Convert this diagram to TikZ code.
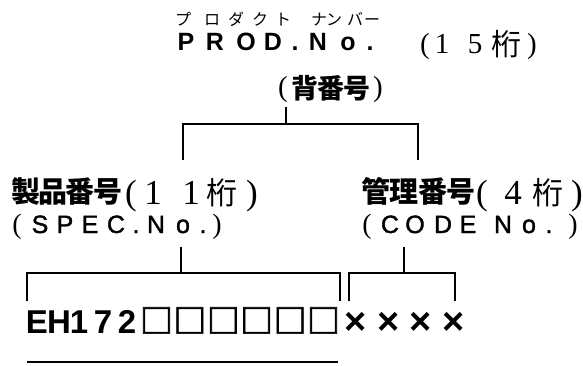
\documentclass[tikz,border=0pt]{standalone}
\usepackage{fontspec}
\setmainfont{Liberation Sans}
\newfontfamily\cjk{Noto Sans CJK JP}
\newfontfamily\serif{Liberation Serif}
\tikzset{
  ch/.style={inner sep=0pt, outer sep=0pt, anchor=base},
  kana/.style={ch, font=\cjk\fontsize{16}{16}\selectfont},
  prodf/.style={ch, font=\bfseries\fontsize{25}{25}\selectfont},
  ser/.style={ch, font=\serif\fontsize{#1}{#1}\selectfont},
  kanji/.style={ch, font=\cjk\bfseries\fontsize{#1}{#1}\selectfont},
  kanjir/.style={ch, font=\cjk\fontsize{#1}{#1}\selectfont},
  lat/.style={ch, font=\addfontfeature{FakeBold=1.5}\fontsize{25}{25}\selectfont},
  bigf/.style={ch, font=\bfseries\fontsize{33}{33}\selectfont},
  crossf/.style={ch, font=\bfseries\fontsize{38}{38}\selectfont},
  sqf/.style={ch, font=\cjk\bfseries\addfontfeature{FakeBold=2}\fontsize{33}{33}\selectfont},
  link/.style={line width=2.5pt},
}
\begin{document}
\begin{tikzpicture}[x=1pt,y=-1pt]
\useasboundingbox (0,0) rectangle (583,365);
% ruby
\foreach \x/\c [count=\n] in {183/プ,212/ロ,236/ダ,260/ク,283/ト,319/ナ,334/ン,355/バ,372/ー}
  \node[kana] (ruby\n) at (\x,25) {\c};
% PROD.No.(15桁)
\foreach \x/\c [count=\n] in {186/P,215/R,246/O,273/D,295/.,318/N,348/o,370/.}
  \node[prodf] (prod\n) at (\x,50) {\c};
\foreach \x/\c [count=\n] in {425/(,442/1,475/5,532/)}
  \node[ser=29] (prodn\n) at (\x,53) {\c};
\node[kanjir=30] (prodk) at (506,55) {桁};
% (背番号)
\node[ser=29] (sbo) at (283,96) {(};
\node[ser=29] (sbc) at (378,96) {)};
\foreach \x/\c [count=\n] in {305/背,331/番,357/号}
  \node[kanji=27] (seb\n) at (\x,98) {\c};
% 製品番号(11桁)
\foreach \x/\c [count=\n] in {25.5/製,52.5/品,80/番,107.5/号}
  \node[kanji=29] (sei\n) at (\x,202) {\c};
\foreach \x/\c [count=\n] in {131/(,153/1,191/1,252/)}
  \node[ser=35] (seid\n) at (\x,204) {\c};
\node[kanjir=31] (seik) at (222,204) {桁};
% 管理番号(4桁)
\foreach \x/\c [count=\n] in {376/管,404/理,433/番,461/号}
  \node[kanji=29] (kan\n) at (\x,202) {\c};
\foreach \x/\c [count=\n] in {482/(,513/4,577/)}
  \node[ser=35] (kand\n) at (\x,204) {\c};
\node[kanjir=31] (kank) at (548,204) {桁};
% (SPEC.No.)
\node[ser=28] (spo) at (17,233) {(};
\node[ser=28] (spc) at (217,233) {)};
\foreach \x/\c [count=\n] in {40/S,65/P,90/E,116/C,136/.,156/N,183/o,203/.}
  \node[lat] (spec\n) at (\x,233) {\c};
% (CODE No.)
\node[ser=28] (cdo) at (367,233) {(};
\node[ser=28] (cdc) at (573,233) {)};
\foreach \x/\c [count=\n] in {390/C,415/O,443/D,468/E,503/N,529/o,549/.}
  \node[lat] (code\n) at (\x,233) {\c};
% EH172□□□□□□××××
\foreach \x/\c [count=\n] in {37/E,59/H,79/1,103/7,127/2}
  \node[bigf] (eh\n) at (\x,333) {\c};
\foreach \x [count=\n] in {156.5,189.9,223.3,256.7,290.1,323.5}
  \node[sqf] (sq\n) at (\x,333) {□};
\foreach \x [count=\n] in {356,389,421,454}
  \node[crossf] (xx\n) at (\x,334) {×};
% connectors
\coordinate (r0) at (286,107);
\coordinate (r1) at (286,124);
\coordinate (bl) at (183,124);
\coordinate (br) at (418,124);
\coordinate (bld) at (183,160);
\coordinate (brd) at (418,160);
\draw[link] (r0) -- (r1);
\draw[link] (bld) -- (bl) -- (br) -- (brd);
\coordinate (s0) at (181,247);
\coordinate (s1) at (181,273);
\coordinate (sl) at (27,273);
\coordinate (sr) at (340,273);
\coordinate (sld) at (27,301);
\coordinate (srd) at (340,301);
\draw[link] (s0) -- (s1);
\draw[link] (sld) -- (sl) -- (sr) -- (srd);
\coordinate (c0) at (404,247);
\coordinate (c1) at (404,273);
\coordinate (cl) at (349,273);
\coordinate (cr) at (455,273);
\coordinate (cld) at (349,301);
\coordinate (crd) at (455,301);
\draw[link] (c0) -- (c1);
\draw[link] (cld) -- (cl) -- (cr) -- (crd);
\coordinate (u0) at (27,362);
\coordinate (u1) at (338,362);
\draw[line width=2pt] (u0) -- (u1);
\end{tikzpicture}
\end{document}
